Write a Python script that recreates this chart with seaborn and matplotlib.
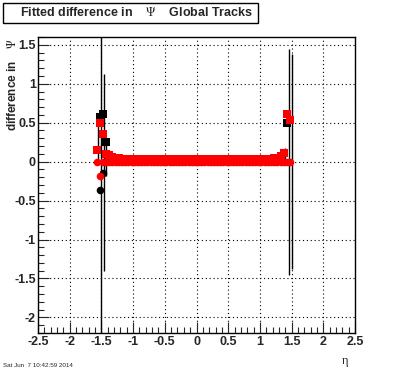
import numpy as np
import pandas as pd
import seaborn as sns
import matplotlib.pyplot as plt
from matplotlib.patches import Rectangle
from matplotlib.ticker import MultipleLocator

# eta bin centres (width 0.05)
eta_bins = [-1.575, -1.525, -1.475, -1.425, -1.375, -1.325, -1.275, -1.225,
            -1.175, -1.125, -1.075, -1.025, -0.975, -0.925, -0.875, -0.825,
            -0.775, -0.725, -0.675, -0.625, -0.575, -0.525, -0.475, -0.425,
            -0.375, -0.325, -0.275, -0.225, -0.175, -0.125, -0.075, -0.025,
            0.025, 0.075, 0.125, 0.175, 0.225, 0.275, 0.325, 0.375,
            0.425, 0.475, 0.525, 0.575, 0.625, 0.675, 0.725, 0.775,
            0.825, 0.875, 0.925, 0.975, 1.025, 1.075, 1.125, 1.175,
            1.225, 1.275, 1.325, 1.375, 1.425, 1.475]

red_square = [0.15, 0.49, 0.35, 0.10, 0.08, 0.06, 0.05, 0.045,
              0.04, 0.04, 0.04, 0.04, 0.04, 0.04, 0.04, 0.04,
              0.04, 0.04, 0.04, 0.04, 0.04, 0.04, 0.04, 0.04,
              0.04, 0.04, 0.04, 0.04, 0.04, 0.04, 0.04, 0.04,
              0.04, 0.04, 0.04, 0.04, 0.04, 0.04, 0.04, 0.04,
              0.04, 0.04, 0.04, 0.04, 0.04, 0.04, 0.04, 0.04,
              0.04, 0.04, 0.04, 0.04, 0.04, 0.04, 0.04, 0.04,
              0.045, 0.05, 0.07, 0.11, 0.61, 0.53]

red_circle = [0.0, -0.18, -0.01, -0.01, -0.01, -0.01, -0.01, -0.01,
              -0.01, -0.01, -0.01, -0.01, -0.01, -0.01, -0.01, -0.01,
              -0.01, -0.01, -0.01, -0.01, -0.01, -0.01, -0.01, -0.01,
              -0.01, -0.01, -0.01, -0.01, -0.01, -0.01, -0.01, -0.01,
              -0.01, -0.01, -0.01, -0.01, -0.01, -0.01, -0.01, -0.01,
              -0.01, -0.01, -0.01, -0.01, -0.01, -0.01, -0.01, -0.01,
              -0.01, -0.01, -0.01, -0.01, -0.01, -0.01, -0.01, -0.01,
              -0.01, -0.01, -0.01, -0.01, -0.01, 0.0]

# black points visible at the edges
black_sq_eta = [-1.525, -1.475, -1.425, 1.425]
black_square = [0.57, 0.61, 0.25, 0.49]
black_ci_eta = [-1.525, -1.475]
black_circle = [-0.37, -0.14]

# error bars
err_eta = [-1.51, -1.46, -1.43, -1.55, 1.395, 1.455, 1.5]
err_mid = [-0.37, -0.14, 0.05, 0.25, 0.1, 0.0, 0.0]
err_size = [4.0, 1.27, 0.24, 0.26, 0.07, 1.45, 1.38]

xticks = [-2.5, -2, -1.5, -1, -0.5, 0, 0.5, 1, 1.5, 2, 2.5]
xticklabels = ['-2.5', '-2', '-1.5', '-1', '-0.5', '0', '0.5', '1', '1.5', '2', '2.5']
yticks = [-2, -1.5, -1, -0.5, 0, 0.5, 1, 1.5]
yticklabels = ['-2', '-1.5', '-1', '-0.5', '0', '0.5', '1', '1.5']

sns.set_style("ticks")
plt.rcParams['font.family'] = ['Liberation Sans', 'DejaVu Sans']
plt.rcParams['mathtext.fontset'] = 'stix'

W, H = 396, 372
fig = plt.figure(figsize=(W / 100, H / 100), dpi=100)
fig.patch.set_facecolor('white')
ax = fig.add_axes([38 / W, 1 - 333 / H, 317 / W, 296 / H])

ax.errorbar(err_eta, err_mid, yerr=err_size, fmt='none', ecolor='black',
            elinewidth=1.0, capsize=0, zorder=2)

sns.scatterplot(x=black_ci_eta, y=black_circle, ax=ax, color='black', marker='o',
                s=30, linewidth=0, zorder=3)
sns.scatterplot(x=black_sq_eta, y=black_square, ax=ax, color='black', marker='s',
                s=40, linewidth=0, zorder=3)
sns.scatterplot(x=eta_bins, y=red_circle, ax=ax, color='red', marker='o',
                s=30, linewidth=0, zorder=4)
sns.scatterplot(x=eta_bins, y=red_square, ax=ax, color='red', marker='s',
                s=40, linewidth=0, zorder=5)

ax.set_xlim(-2.5, 2.5)
ax.set_ylim(-2.2, 1.6)
ax.set_xticks(xticks)
ax.set_xticklabels(xticklabels, fontsize=9, fontweight='bold')
ax.set_yticks(yticks)
ax.set_yticklabels(yticklabels, fontsize=9, fontweight='bold')
ax.xaxis.set_minor_locator(MultipleLocator(0.1))
ax.yaxis.set_minor_locator(MultipleLocator(0.1))
ax.tick_params(which='major', direction='in', length=8, width=0.8, pad=2,
               top=False, right=False)
ax.tick_params(which='minor', direction='in', length=4, width=0.8,
               top=False, right=False)
ax.tick_params(axis='y', pad=1.5)
ax.grid(True, which='major', color='black', linestyle=(0, (1, 2.5)), linewidth=0.8)
for sp in ax.spines.values():
    sp.set_visible(True)
    sp.set_color('black')
    sp.set_linewidth(1.0)
ax.set_xlabel('')
ax.set_ylabel('')

# title box
fig.patches.append(Rectangle((3 / W, 1 - 23 / H), 255 / W, 20 / H,
                             transform=fig.transFigure, facecolor='white',
                             edgecolor='black', linewidth=1.0))
fig.text(137 / W, 1 - 13 / H, r'Fitted difference in    $\Psi$    Global Tracks',
         ha='center', va='center', fontsize=9, fontweight='bold')

fig.text(13 / W, 1 - 38 / H, r'difference in    $\Psi$', rotation=90,
         ha='center', va='top', fontsize=8.5, fontweight='bold')
fig.text(345 / W, 1 - 361 / H, 'η', ha='center', va='center', fontsize=9,
         family=['Liberation Serif', 'DejaVu Serif'])
fig.text(3 / W, 1 - 367 / H, 'Sat Jun  7 10:42:59 2014', ha='left',
         va='baseline', fontsize=4.5)

fig.savefig('out.png', dpi=100, facecolor='white')
